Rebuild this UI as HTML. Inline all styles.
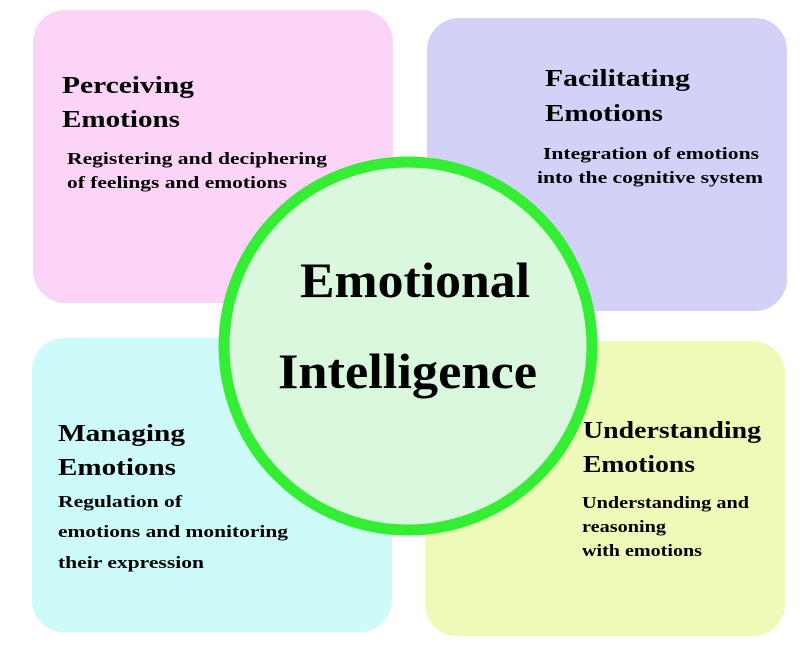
<!DOCTYPE html>
<html><head><meta charset="utf-8"><style>html,body{margin:0;padding:0;background:#fff}svg{display:block}</style></head>
<body>
<svg width="800" height="663" viewBox="0 0 800 663" xmlns="http://www.w3.org/2000/svg" font-family="Liberation Serif, serif" font-weight="bold" fill="#000">
<rect x="33" y="10" width="360" height="293" rx="32" fill="#fbd4f8"/>
<rect x="427" y="18" width="360" height="293" rx="32" fill="#d2d2f8"/>
<rect x="32" y="338" width="360" height="294" rx="32" fill="#ccfbf9"/>
<rect x="425" y="341" width="360" height="295" rx="32" fill="#eefbb8"/>
<circle cx="408" cy="346" r="184" fill="#d9f8dd" stroke="#33ee33" stroke-width="11"/>

<g font-size="24" lengthAdjust="spacingAndGlyphs">
<text x="62" y="93" textLength="132" lengthAdjust="spacingAndGlyphs">Perceiving</text>
<text x="62" y="127" textLength="118" lengthAdjust="spacingAndGlyphs">Emotions</text>
<text x="545" y="86" textLength="145" lengthAdjust="spacingAndGlyphs">Facilitating</text>
<text x="545" y="121" textLength="118" lengthAdjust="spacingAndGlyphs">Emotions</text>
<text x="58" y="441" textLength="127" lengthAdjust="spacingAndGlyphs">Managing</text>
<text x="58" y="475" textLength="118" lengthAdjust="spacingAndGlyphs">Emotions</text>
<text x="583" y="438" textLength="178" lengthAdjust="spacingAndGlyphs">Understanding</text>
<text x="583" y="472" textLength="112" lengthAdjust="spacingAndGlyphs">Emotions</text>
</g>
<g font-size="17">
<text x="67" y="164" textLength="260" lengthAdjust="spacingAndGlyphs">Registering and deciphering</text>
<text x="67" y="188" textLength="220" lengthAdjust="spacingAndGlyphs">of feelings and emotions</text>
<text x="543" y="159" textLength="216" lengthAdjust="spacingAndGlyphs">Integration of emotions</text>
<text x="537" y="183" textLength="226" lengthAdjust="spacingAndGlyphs">into the cognitive system</text>
<text x="58" y="507" textLength="124" lengthAdjust="spacingAndGlyphs">Regulation of</text>
<text x="58" y="537" textLength="230" lengthAdjust="spacingAndGlyphs">emotions and monitoring</text>
<text x="58" y="568" textLength="146" lengthAdjust="spacingAndGlyphs">their expression</text>
<text x="582" y="508" textLength="167" lengthAdjust="spacingAndGlyphs">Understanding and</text>
<text x="582" y="532" textLength="84" lengthAdjust="spacingAndGlyphs">reasoning</text>
<text x="582" y="556" textLength="120" lengthAdjust="spacingAndGlyphs">with emotions</text>
</g>
<g font-size="50">
<text x="300" y="297" textLength="230" lengthAdjust="spacingAndGlyphs">Emotional</text>
<text x="278" y="388" textLength="259" lengthAdjust="spacingAndGlyphs">Intelligence</text>
</g>
</svg>
</body></html>
